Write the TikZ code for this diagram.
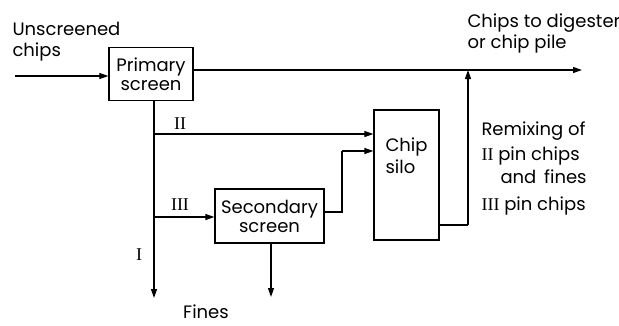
\documentclass[tikz,border=0pt]{standalone}
\usepackage{fontspec}
\setmainfont{Poppins}
\newfontfamily\numfont{Liberation Serif}
\usetikzlibrary{arrows.meta}
\newcommand{\romnum}[1]{{\numfont #1}}
\begin{document}
\begin{tikzpicture}[x=1pt,y=-1pt,
  every node/.style={font=\fontsize{18}{24}\selectfont},
  box/.style={draw, line width=1.3pt, inner sep=0pt, align=center},
  flow/.style={line width=1.2pt, -{Triangle[length=9pt,width=6pt]}},
  plain/.style={line width=1.2pt},
  num/.style={font=\numfont\fontsize{18}{20}\selectfont}]
\useasboundingbox (0,0) rectangle (619,325);
% boxes
\node[box, minimum width=84pt, minimum height=53pt] (primary) at (151,74) {Primary\\[-5pt]screen};
\node[box, minimum width=109pt, minimum height=54pt] (secondary) at (269.5,216) {Secondary\\[-5pt]screen};
\node[box, minimum width=65pt, minimum height=130pt] (silo) at (406.5,175) {};
\node[anchor=base west, align=left] (silotext) at (382,173) {Chip\\[-2pt]silo};
% coordinates
\coordinate (inA) at (15,76);
\coordinate (outEnd) at (582,70);
\coordinate (jx) at (468,70);
\coordinate (trunk) at (154,298);
\coordinate (b2) at (154,134);
\coordinate (b3) at (154,217);
\coordinate (c2) at (342,212);
\coordinate (s2) at (342,151);
\coordinate (r1) at (468,225);
\coordinate (finesEnd) at (271,297);
% connectors
\draw[flow] (inA) -- (primary.west |- inA);
\draw[flow] (primary.east |- outEnd) -- (outEnd);
\draw[flow] (primary.south -| trunk) -- (trunk);
\draw[flow] (b2) -- (silo.west |- b2);
\draw[flow] (b3) -- (secondary.west |- b3);
\draw[plain] (secondary.east |- c2) -- (c2) -- (s2);
\draw[flow] (s2) -- (silo.west |- s2);
\draw[plain] (silo.east |- r1) -- (r1);
\draw[flow] (r1) -- (jx);
\draw[flow] (secondary.south -| finesEnd) -- (finesEnd);
% labels
\node[anchor=base west, align=left] (unscr) at (9,56) {Unscreened\\[-3pt]chips};
\node[anchor=base west, align=left] (dest) at (464,48) {Chips to digester\\[-3pt]or chip pile};
\node[anchor=base west, inner sep=1pt] (fines) at (182,318) {Fines};
\node[num] (lII) at (180,124) {II};
\node[num] (lIII) at (180,205) {III};
\node[num] (lI) at (139,255) {I};
\node[anchor=base west] (rem1) at (478,135) {Remixing of};
\node[anchor=base west] (rem2) at (478,160) {\romnum{II} pin chips};
\node[anchor=base west] (rem3) at (497,183) {and\, fines};
\node[anchor=base west] (rem4) at (478,210) {\romnum{III} pin chips};
\end{tikzpicture}
\end{document}
